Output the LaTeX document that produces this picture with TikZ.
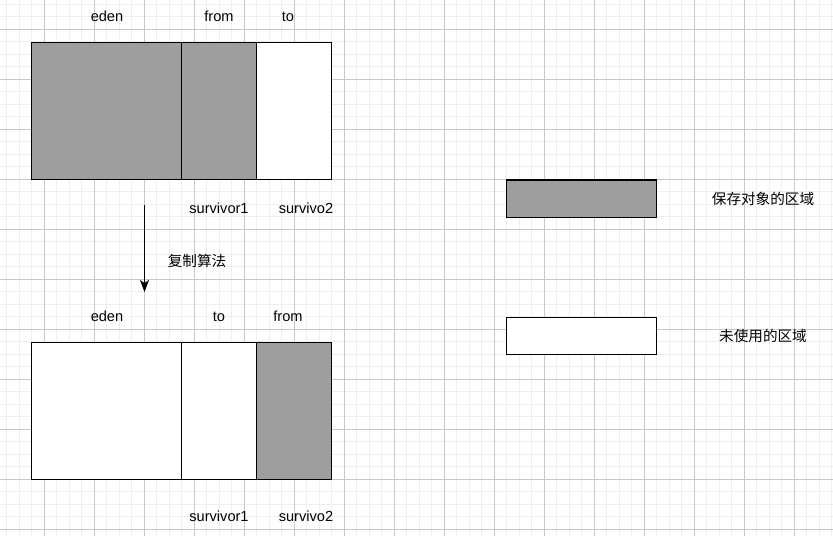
\documentclass[tikz,border=0pt]{standalone}
\usepackage{fontspec}
\setmainfont{Liberation Sans}
\newfontfamily\cjkfont{Noto Sans CJK SC}
\usetikzlibrary{positioning,arrows.meta}
\definecolor{cellgray}{HTML}{9E9E9E}
\definecolor{gridmajor}{HTML}{C8C8C8}
\definecolor{gridminor}{HTML}{EEEEEE}
\newcommand\edenW{150}
\newcommand\survW{75}
\newcommand\cellH{137.5}
\newcommand\legW{150}
\newcommand\legH{37.5}

\begin{document}
\begin{tikzpicture}[x=1pt,y=-1pt,
    cell/.style={draw=black, line width=1.3pt, inner sep=0pt, outer sep=0pt, minimum height=\cellH pt},
    used/.style={cell, fill=cellgray},
    free/.style={cell, fill=white},
    lbl/.style={inner sep=0pt, text height=10pt, text depth=2pt, font=\fontsize{14.6}{16}\selectfont},
    cjk/.style={inner sep=0pt, font=\cjkfont\fontsize{14.6}{16}\selectfont}]
    \useasboundingbox[fill=white] (0,0) rectangle (833,536);

    % background grid
    \foreach \i in {0,...,66}{
      \draw[gridminor, line width=1pt] (6.8+12.5*\i,0) -- (6.8+12.5*\i,536);
    }
    \foreach \i in {0,...,42}{
      \draw[gridminor, line width=1pt] (0,4.3+12.5*\i) -- (833,4.3+12.5*\i);
    }
    \foreach \i in {0,...,15}{
      \draw[gridmajor, line width=1pt] (44.3+50*\i,0) -- (44.3+50*\i,536);
    }
    \foreach \i in {0,...,10}{
      \draw[gridmajor, line width=1pt] (0,29.3+50*\i) -- (833,29.3+50*\i);
    }

    % before copying
    \node[used, anchor=north west, minimum width=\edenW pt] (topEden) at (31.7,42.3) {};
    \node[used, right=0pt of topEden, minimum width=\survW pt] (topFrom) {};
    \node[free, right=0pt of topFrom, minimum width=\survW pt] (topTo) {};

    \node[lbl] (topEdenLbl) at (107,17) {eden};
    \node[lbl] (topFromLbl) at (219,17) {from};
    \node[lbl] (topToLbl) at (288,17) {to};
    \node[lbl] (topSurvA) at (219,209) {survivor1};
    \node[lbl] (topSurvB) at (306,209) {survivo2};

    % copy step
    \coordinate (arrTop) at (144.5,205);
    \coordinate (arrBot) at (144.5,292);
    \draw[line width=1.3pt, -{Stealth[length=12pt,width=9pt,inset=3pt]}] (arrTop) -- (arrBot);
    \node[cjk] (algoLbl) at (197,261) {复制算法};

    % after copying
    \node[free, anchor=north west, minimum width=\edenW pt] (botEden) at (31.7,342.3) {};
    \node[free, right=0pt of botEden, minimum width=\survW pt] (botTo) {};
    \node[used, right=0pt of botTo, minimum width=\survW pt] (botFrom) {};

    \node[lbl] (botEdenLbl) at (107,317) {eden};
    \node[lbl] (botToLbl) at (219,317) {to};
    \node[lbl] (botFromLbl) at (288,317) {from};
    \node[lbl] (botSurvA) at (219,517) {survivor1};
    \node[lbl] (botSurvB) at (306,517) {survivo2};

    % legend
    \node[used, anchor=north west, minimum width=\legW pt, minimum height=\legH pt] (legUsed) at (506.7,180) {};
    \node[free, anchor=north west, minimum width=\legW pt, minimum height=\legH pt] (legFree) at (506.7,317.3) {};
    \node[cjk] (legUsedLbl) at (763,199) {保存对象的区域};
    \node[cjk] (legFreeLbl) at (763,336) {未使用的区域};

  \end{tikzpicture}
\end{document}
